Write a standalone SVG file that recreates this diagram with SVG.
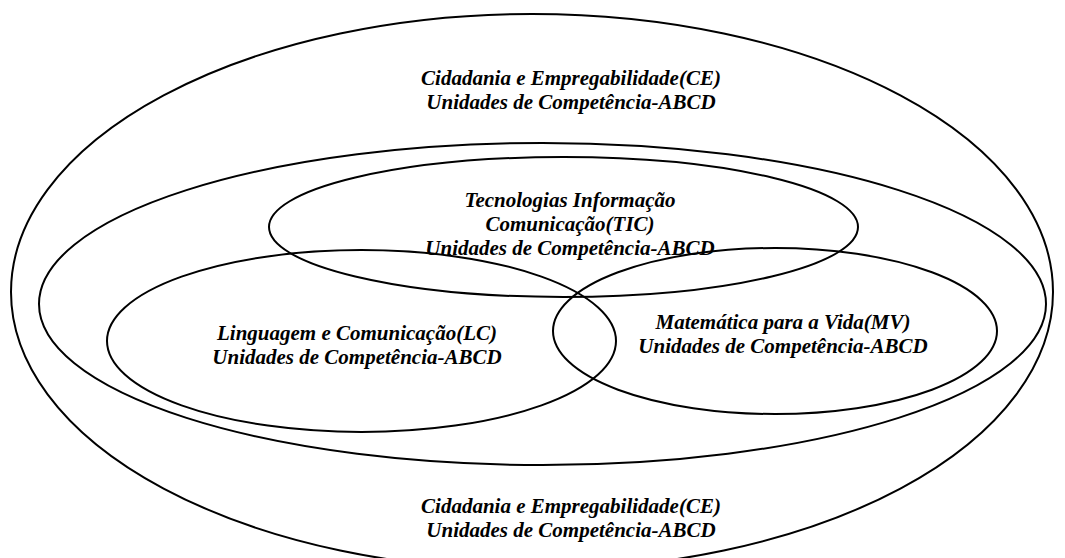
<svg xmlns="http://www.w3.org/2000/svg" width="1065" height="558" viewBox="0 0 1065 558">
<style>
.sh{fill:none;stroke:#000;stroke-width:2}
.t{font-family:"Liberation Serif","Times New Roman",serif;font-weight:bold;font-style:italic;font-size:21px;fill:#000;text-anchor:middle}
</style>
<rect width="1065" height="558" fill="#fff"/>
<g id="ce-outer">
<ellipse class="sh" cx="532" cy="292" rx="521" ry="278"/>
<text class="t" x="571" y="85">Cidadania e Empregabilidade(CE)</text>
<text class="t" x="571" y="109">Unidades de Competência-ABCD</text>
<text class="t" x="571" y="513">Cidadania e Empregabilidade(CE)</text>
<text class="t" x="571" y="537">Unidades de Competência-ABCD</text>
</g>
<g id="ce-inner">
<ellipse class="sh" cx="542.5" cy="304" rx="503.5" ry="161"/>
</g>
<g id="tic">
<ellipse class="sh" cx="563.5" cy="227" rx="294.5" ry="70"/>
<text class="t" x="570" y="207">Tecnologias Informação</text>
<text class="t" x="570" y="231">Comunicação(TIC)</text>
<text class="t" x="570" y="255">Unidades de Competência-ABCD</text>
</g>
<g id="lc">
<ellipse class="sh" cx="361.5" cy="341" rx="254.5" ry="91"/>
<text class="t" x="357" y="340">Linguagem e Comunicação(LC)</text>
<text class="t" x="357" y="364">Unidades de Competência-ABCD</text>
</g>
<g id="mv">
<ellipse class="sh" cx="775" cy="331" rx="222" ry="83"/>
<text class="t" x="783" y="329">Matemática para a Vida(MV)</text>
<text class="t" x="783" y="353">Unidades de Competência-ABCD</text>
</g>
<g id="connectors"/>
</svg>
